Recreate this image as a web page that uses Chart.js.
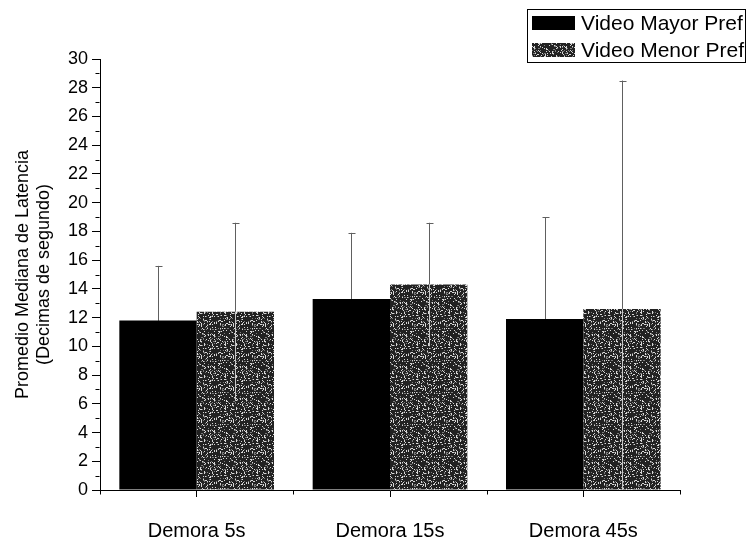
<!DOCTYPE html>
<html>
<head>
<meta charset="utf-8">
<title>Promedio Mediana de Latencia</title>
<script src="https://cdn.jsdelivr.net/npm/chart.js@4.4.1/dist/chart.umd.min.js"></script>
<style>
  html, body { margin: 0; padding: 0; background: #ffffff; }
  #wrap { width: 747px; height: 546px; }
</style>
</head>
<body>
<div id="wrap"><canvas id="chart" width="747" height="546"></canvas></div>
<script>
// Categories and series values (tenths of a second)
const categories = ['Demora 5s', 'Demora 15s', 'Demora 45s'];
const seriesNames = ['Video Mayor Pref', 'Video Menor Pref'];
const mayorValues = [11.8, 13.3, 11.9];
const menorValues = [12.4, 14.3, 12.6];
// Standard error (half-length of each error bar)
const mayorErrors = [3.8, 4.6, 7.1];
const menorErrors = [6.2, 4.3, 15.9];
// Y-axis tick labels
const yTicks = [0, 2, 4, 6, 8, 10, 12, 14, 16, 18, 20, 22, 24, 26, 28, 30];

const FONT = '"Liberation Sans", Arial, Helvetica, sans-serif';

// Speckled dark fill used for the second series
function makeSpeckle() {
  const c = document.createElement('canvas');
  c.width = 32; c.height = 32;
  const g = c.getContext('2d');
  g.fillStyle = '#222222';
  g.fillRect(0, 0, 32, 32);
  for (let j = 0; j < 32; j++) {
    for (let i = 0; i < 32; i++) {
      const h = (((i * 73856093) ^ (j * 19349663) ^ (i * j * 83492791)) >>> 0) % 100;
      if (h < 14) { g.fillStyle = '#d8d8d8'; g.fillRect(i, j, 1, 1); }
      else if (h < 24) { g.fillStyle = '#7a7a7a'; g.fillRect(i, j, 1, 1); }
    }
  }
  return c;
}
const canvas = document.getElementById('chart');
const ctx0 = canvas.getContext('2d');
const speckle = ctx0.createPattern(makeSpeckle(), 'repeat');

// Error bars: upper half above the bar, lower half drawn inside the bar
const errorBars = {
  id: 'errorBars',
  afterDatasetsDraw(chart) {
    const ctx = chart.ctx;
    const y = chart.scales.y;
    chart.data.datasets.forEach((ds, di) => {
      const meta = chart.getDatasetMeta(di);
      meta.data.forEach((bar, i) => {
        const v = ds.data[i];
        const e = ds.errors[i];
        const yv = y.getPixelForValue(v);
        const yt = y.getPixelForValue(v + e);
        const yb = y.getPixelForValue(Math.max(0, v - e));
        const x = Math.round(bar.x) + 0.5;
        ctx.save();
        ctx.lineWidth = 1;
        ctx.strokeStyle = '#606060';
        ctx.beginPath();
        ctx.moveTo(x, yv); ctx.lineTo(x, yt);
        ctx.moveTo(x - 3, Math.round(yt) + 0.5); ctx.lineTo(x + 4, Math.round(yt) + 0.5);
        ctx.stroke();
        ctx.strokeStyle = ds.innerErrorColor;
        ctx.beginPath();
        ctx.moveTo(x, yv); ctx.lineTo(x, yb);
        ctx.stroke();
        ctx.restore();
      });
    });
  }
};

// Minor tick marks on both axes
const minorTicks = {
  id: 'minorTicks',
  afterDraw(chart) {
    const ctx = chart.ctx;
    const x = chart.scales.x, y = chart.scales.y;
    ctx.save();
    ctx.strokeStyle = '#000';
    ctx.lineWidth = 1;
    ctx.beginPath();
    const ax = Math.round(y.right) - 0.5;
    for (let v = 1; v < 30; v += 2) {
      const py = Math.round(y.getPixelForValue(v)) + 0.5;
      ctx.moveTo(ax - 4, py); ctx.lineTo(ax, py);
    }
    const ay = Math.round(x.top) + 0.5;
    const step = (x.right - x.left) / categories.length;
    for (let k = 0; k <= categories.length; k++) {
      const px = Math.round(x.left + k * step) + 0.5;
      ctx.moveTo(px, ay); ctx.lineTo(px, ay + 4);
    }
    ctx.stroke();
    ctx.restore();
  }
};

// Boxed legend at the top right
const boxLegend = {
  id: 'boxLegend',
  afterDraw(chart) {
    const ctx = chart.ctx;
    ctx.save();
    ctx.strokeStyle = '#000';
    ctx.lineWidth = 1;
    ctx.strokeRect(527.5, 9.5, 218, 53);
    ctx.font = '21px ' + FONT;
    ctx.textBaseline = 'middle';
    ctx.fillStyle = '#000';
    chart.data.datasets.forEach((ds, i) => {
      const cy = 23 + i * 27;
      ctx.fillStyle = ds.backgroundColor;
      ctx.fillRect(532, cy - 7, 43, 14);
      ctx.fillStyle = '#000';
      ctx.fillText(ds.label, 581, cy + 1);
    });
    ctx.restore();
  }
};

new Chart(canvas, {
  type: 'bar',
  data: {
    labels: categories,
    datasets: [
      { label: seriesNames[0], data: mayorValues, errors: mayorErrors,
        backgroundColor: '#000000', innerErrorColor: '#000000',
        categoryPercentage: 0.8, barPercentage: 1.0 },
      { label: seriesNames[1], data: menorValues, errors: menorErrors,
        backgroundColor: speckle, innerErrorColor: '#c8c8c8',
        categoryPercentage: 0.8, barPercentage: 1.0 }
    ]
  },
  options: {
    responsive: false,
    animation: false,
    devicePixelRatio: 1,
    layout: { padding: { top: 59, right: 67, left: 0, bottom: 0 } },
    plugins: { legend: { display: false }, tooltip: { enabled: false } },
    scales: {
      x: {
        afterFit(s) { s.height = 56; },
        grid: { display: true, drawOnChartArea: false, offset: false, tickLength: 7, color: '#000' },
        border: { display: true, color: '#000', width: 1 },
        ticks: { color: '#000', padding: 22, font: { family: FONT, size: 20 } }
      },
      y: {
        min: 0, max: 30,
        afterFit(s) { s.width = 100; },
        afterBuildTicks(s) { s.ticks = yTicks.map(v => ({ value: v })); },
        grid: { display: true, drawOnChartArea: false, tickLength: 8, color: '#000' },
        border: { display: true, color: '#000', width: 1 },
        ticks: { color: '#000', padding: 4, font: { family: FONT, size: 18 } },
        title: {
          display: true,
          text: ['Promedio Mediana de Latencia', '(Decimas de segundo)'],
          color: '#000',
          font: { family: FONT, size: 18 },
          padding: { top: 12, bottom: 0 }
        }
      }
    }
  },
  plugins: [errorBars, minorTicks, boxLegend]
});
</script>
</body>
</html>
